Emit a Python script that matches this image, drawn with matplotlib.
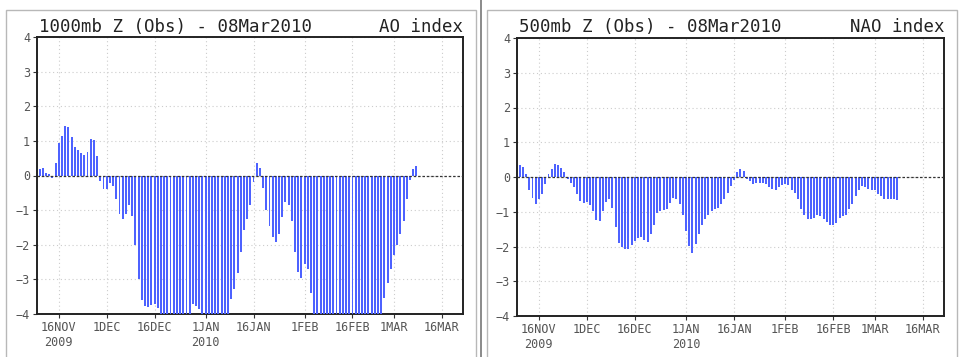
import pandas as pd
import matplotlib
matplotlib.use("Agg")
import matplotlib.pyplot as plt
from matplotlib.patches import Rectangle
from matplotlib.lines import Line2D

# daily index values, 10 Nov 2009 .. 08 Mar 2010 (clipped at -4)
ao_vals = [
    0.20, 0.22, 0.06, 0.03, -0.07, 0.35, 0.93, 1.15, 1.42, 1.40,
    1.12, 0.82, 0.75, 0.65, 0.60, 0.68, 1.04, 1.02, 0.55, -0.16,
    -0.40, -0.38, -0.21, -0.30, -0.69, -1.12, -1.27, -1.12, -0.84, -1.17,
    -2.00, -2.98, -3.60, -3.77, -3.80, -3.75, -3.72, -3.82, -4.0, -4.0,
    -4.0, -4.0, -4.0, -4.0, -4.0, -4.0, -4.0, -4.0, -3.72, -3.78,
    -3.87, -4.0, -4.0, -4.0, -4.0, -4.0, -4.0, -4.0, -4.0, -4.0,
    -3.58, -3.27, -2.83, -2.20, -1.56, -1.25, -0.84, -0.19, 0.35, 0.23,
    -0.36, -0.99, -1.46, -1.78, -1.93, -1.70, -1.20, -0.77, -0.84, -1.30,
    -2.20, -2.80, -2.97, -2.55, -2.70, -3.38, -4.0, -4.0, -4.0, -4.0,
    -4.0, -4.0, -4.0, -4.0, -4.0, -4.0, -4.0, -4.0, -4.0, -4.0,
    -4.0, -4.0, -4.0, -4.0, -4.0, -4.0, -4.0, -4.0, -3.55, -3.10,
    -2.70, -2.30, -2.00, -1.68, -1.30, -0.68, -0.12, 0.18, 0.26,
]
nao_vals = [
    0.34, 0.30, 0.08, -0.36, -0.60, -0.79, -0.64, -0.50, -0.21, 0.08,
    0.24, 0.36, 0.35, 0.27, 0.13, -0.05, -0.16, -0.30, -0.50, -0.69,
    -0.76, -0.72, -0.82, -0.98, -1.25, -1.27, -0.98, -0.72, -0.64, -0.88,
    -1.44, -1.90, -2.02, -2.06, -2.06, -1.97, -1.85, -1.75, -1.72, -1.80,
    -1.87, -1.65, -1.37, -1.03, -0.98, -0.96, -0.91, -0.74, -0.60, -0.62,
    -0.79, -1.08, -1.56, -1.99, -2.18, -1.92, -1.65, -1.37, -1.20, -1.08,
    -0.98, -0.93, -0.88, -0.79, -0.64, -0.45, -0.26, -0.09, 0.14, 0.22,
    0.18, -0.05, -0.12, -0.19, -0.16, -0.16, -0.16, -0.21, -0.30, -0.34,
    -0.36, -0.30, -0.24, -0.19, -0.24, -0.36, -0.45, -0.62, -0.91, -1.10,
    -1.20, -1.20, -1.17, -1.10, -1.12, -1.20, -1.30, -1.37, -1.39, -1.32,
    -1.17, -1.12, -1.08, -0.93, -0.77, -0.55, -0.36, -0.26, -0.30, -0.34,
    -0.36, -0.38, -0.48, -0.55, -0.64, -0.64, -0.64, -0.64, -0.66,
]
dates = pd.date_range("2009-11-10", "2010-03-08", freq="D")

tick_dates = pd.to_datetime(["2009-11-16", "2009-12-01", "2009-12-16", "2010-01-01",
                             "2010-01-16", "2010-02-01", "2010-02-16", "2010-03-01",
                             "2010-03-16"])
tick_labels = ["16NOV\n2009", "1DEC", "16DEC", "1JAN\n2010", "16JAN",
               "1FEB", "16FEB", "1MAR", "16MAR"]

titles = [("1000mb Z (Obs) - 08Mar2010", "AO index"),
          ("500mb Z (Obs) - 08Mar2010", "NAO index")]

W, H = 959, 357
fig = plt.figure(figsize=(W / 100, H / 100), dpi=100)

# panel frames
fig.add_artist(Rectangle((6 / W, -0.01), 470 / W, 1 - 10 / H + 0.01,
                         transform=fig.transFigure, fill=False,
                         edgecolor="#b8b8b8", lw=1))
fig.add_artist(Rectangle((487 / W, -0.01), 470 / W, 1 - 10 / H + 0.01,
                         transform=fig.transFigure, fill=False,
                         edgecolor="#b8b8b8", lw=1))
fig.add_artist(Line2D([481 / W, 481 / W], [0, 1], transform=fig.transFigure,
                      color="#777777", lw=1.2))

boxes = [(37, 37, 426, 277), (517, 38, 427, 278)]
x0 = pd.Timestamp("2009-11-09 04:00")
x1 = pd.Timestamp("2010-03-22 15:00")

for (px, py, pw, ph), vals, (t1, t2) in zip(boxes, [ao_vals, nao_vals], titles):
    ax = fig.add_axes([px / W, 1 - (py + ph) / H, pw / W, ph / H])
    ax.bar(dates, vals, width=0.6, color="#4d62ff", linewidth=0, zorder=3)
    ax.axhline(0, color="#333333", lw=0.9, ls=(0, (2, 1.5)), zorder=4)
    ax.set_xlim(x0, x1)
    ax.set_ylim(-4, 4)
    ax.set_yticks(range(-4, 5))
    ax.set_xticks(tick_dates)
    ax.set_xticklabels(tick_labels)
    ax.grid(True, color="#cccccc", ls=(0, (1, 2.5)), lw=0.8, zorder=0)
    ax.tick_params(axis="both", direction="out", length=3, width=0.8,
                   colors="#333333", labelcolor="#555555", labelsize=8.5)
    ax.tick_params(axis="x", pad=2)
    ax.tick_params(axis="y", pad=2)
    for lab in ax.get_xticklabels() + ax.get_yticklabels():
        lab.set_family("DejaVu Sans Mono")
    for sp in ax.spines.values():
        sp.set_linewidth(1.4)
        sp.set_color("#222222")
    fig.text((px + 2) / W, 1 - 32 / H, t1, family="DejaVu Sans Mono",
             fontsize=12.5, color="#222222", va="baseline", ha="left")
    fig.text((px + pw) / W, 1 - 32 / H, t2, family="DejaVu Sans Mono",
             fontsize=12.5, color="#222222", va="baseline", ha="right")

fig.savefig("out.png", dpi=100)
